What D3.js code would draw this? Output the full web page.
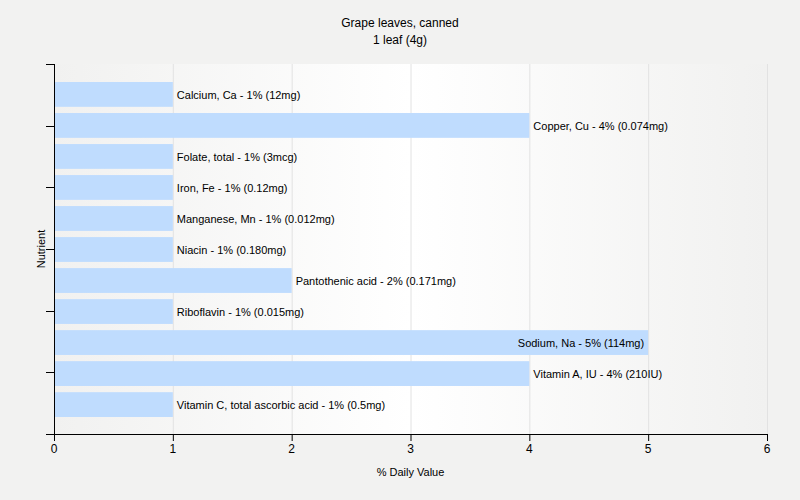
<!DOCTYPE html>
<html><head><meta charset="utf-8">
<script src="https://cdn.jsdelivr.net/npm/d3@7"></script>
<style>body{margin:0;background:#f2f2f1;}svg{display:block;font-family:"Liberation Sans",Arial,sans-serif;}</style>
</head><body>
<svg id="c" width="800" height="500"></svg>
<script>
const nutrients = ["Calcium, Ca","Copper, Cu","Folate, total","Iron, Fe","Manganese, Mn","Niacin","Pantothenic acid","Riboflavin","Sodium, Na","Vitamin A, IU","Vitamin C, total ascorbic acid"];
const percents = [1,4,1,1,1,1,2,1,5,4,1];
const amounts = ["12mg","0.074mg","3mcg","0.12mg","0.012mg","0.180mg","0.171mg","0.015mg","114mg","210IU","0.5mg"];
const xTicks = [0,1,2,3,4,5,6];
const title = ["Grape leaves, canned","1 leaf (4g)"];

const svg = d3.select("#c");
const L=54,R=767,T=64,B=434;
const x = d3.scaleLinear().domain([0,6]).range([L,R]);
const y = d3.scaleBand().domain(nutrients).range([82,417]).paddingInner(0.2).paddingOuter(0);

const defs = svg.append("defs");
const g = defs.append("linearGradient").attr("id","bg").attr("x1","0").attr("x2","1").attr("y1","0").attr("y2","0");
g.append("stop").attr("offset","0").attr("stop-color","#f1f1f0");
g.append("stop").attr("offset","0.5").attr("stop-color","#ffffff");
g.append("stop").attr("offset","1").attr("stop-color","#f1f1f0");
svg.append("rect").attr("x",L).attr("y",T).attr("width",R-L).attr("height",B-T).attr("fill","url(#bg)");

svg.selectAll("line.grid").data(xTicks.slice(1)).enter().append("line")
  .attr("x1",d=>x(d)+0.5).attr("x2",d=>x(d)+0.5).attr("y1",T).attr("y2",B).attr("stroke","#e2e2e2");

svg.selectAll("rect.bar").data(nutrients).enter().append("rect")
  .attr("x",x(0)).attr("y",d=>y(d)).attr("width",(d,i)=>x(percents[i])-x(0)).attr("height",y.bandwidth())
  .attr("fill","#bfdcfe");

svg.selectAll("text.lab").data(nutrients).enter().append("text")
  .attr("x",(d,i)=>percents[i]>=5 ? x(percents[i])-4 : x(percents[i])+4)
  .attr("text-anchor",(d,i)=>percents[i]>=5?"end":"start")
  .attr("y",d=>y(d)+y.bandwidth()/2+1).attr("dy","0.35em")
  .attr("font-size","11px").attr("fill","#000")
  .text((d,i)=>`${d} - ${percents[i]}% (${amounts[i]})`);

// axes
svg.append("line").attr("x1",L+0.5).attr("x2",L+0.5).attr("y1",T).attr("y2",B).attr("stroke","#000");
svg.append("line").attr("x1",L-8).attr("x2",R).attr("y1",B+0.5).attr("y2",B+0.5).attr("stroke","#000");
const yt = d3.scaleLinear().domain([0,6]).range([T,B]);
svg.selectAll("line.yt").data(d3.range(6)).enter().append("line")
  .attr("x1",L-8).attr("x2",L).attr("y1",d=>Math.round(yt(d))+0.5).attr("y2",d=>Math.round(yt(d))+0.5).attr("stroke","#000");
svg.selectAll("line.xt").data(xTicks).enter().append("line")
  .attr("x1",d=>x(d)+0.5).attr("x2",d=>x(d)+0.5).attr("y1",B).attr("y2",B+7).attr("stroke","#000");
svg.selectAll("text.xt").data(xTicks).enter().append("text")
  .attr("x",d=>x(d)).attr("y",453).attr("text-anchor","middle").attr("font-size","12px").text(d=>d);

svg.append("text").attr("x",(L+R)/2).attr("y",476).attr("text-anchor","middle").attr("font-size","11px").text("% Daily Value");
svg.append("text").attr("transform","translate(45,249) rotate(-90)").attr("text-anchor","middle").attr("font-size","11px").text("Nutrient");
svg.selectAll("text.t").data(title).enter().append("text")
  .attr("x",400).attr("y",(d,i)=>27+i*17).attr("text-anchor","middle").attr("font-size","12px").text(d=>d);
</script>
</body></html>
